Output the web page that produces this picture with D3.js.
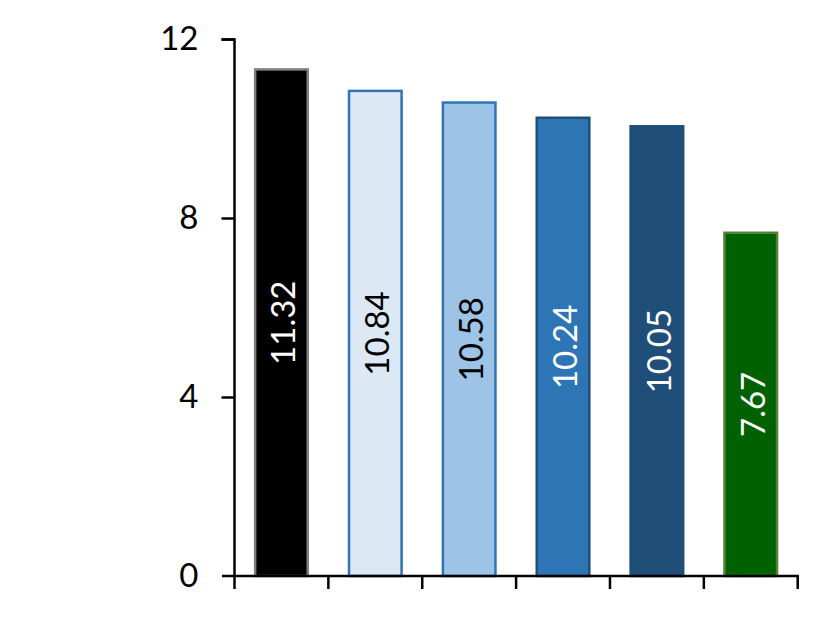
<!DOCTYPE html>
<html><head><meta charset="utf-8">
<script src="https://cdn.jsdelivr.net/npm/d3@7"></script>
<style>body{margin:0;background:#fff}svg{display:block}text{font-family:Lato,"Open Sans",sans-serif}</style>
</head><body><svg id="c" width="830" height="630"></svg>
<script>
const categories = ["A","B","C","D","E","F"];
const values = [11.32, 10.84, 10.58, 10.24, 10.05, 7.67];
const labels = ["11.32","10.84","10.58","10.24","10.05","7.67"];
const fills = ["#000000","#dde8f5","#9dc3e6","#2e75b6","#1f4e79","#006100"];
const strokes = ["#7f7f7f","#2e75b6","#2e75b6","#1f4e79","#1f4e79","#548235"];
const textColors = ["#fff","#000","#000","#fff","#fff","#fff"];
const yTicks = [0,4,8,12];

const svg = d3.select("#c");
const x = d3.scaleBand().domain(categories).range([234.5, 797.7]).paddingInner(0.44).paddingOuter(0.22);
const y = d3.scaleLinear().domain([0,12]).range([576, 39]);

svg.selectAll("rect.bar").data(values).join("rect")
  .attr("class","bar")
  .attr("x",(d,i)=>x(categories[i]))
  .attr("width",x.bandwidth())
  .attr("y",d=>y(d))
  .attr("height",d=>y(0)-y(d))
  .attr("fill",(d,i)=>fills[i])
  .attr("stroke",(d,i)=>strokes[i])
  .attr("stroke-width",2.5);

svg.selectAll("text.lab").data(values).join("text")
  .attr("class","lab")
  .attr("transform",(d,i)=>`translate(${x(categories[i])+x.bandwidth()/2+1},${(y(d)+y(0))/2}) rotate(-90)`)
  .attr("text-anchor","middle")
  .attr("dominant-baseline","central")
  .attr("font-size",33)
  .attr("fill",(d,i)=>textColors[i])
  .text((d,i)=>labels[i]);

const yAxis = d3.axisLeft(y).tickValues(yTicks).tickSize(13).tickPadding(23).tickFormat(d3.format("d"));
const gy = svg.append("g").attr("transform","translate(234.5,0)").call(yAxis);
gy.select(".domain").attr("stroke","#000").attr("stroke-width",2.5).attr("d","M-13,39.5H0V576");
gy.selectAll(".tick line").attr("stroke","#000").attr("stroke-width",2.5);
gy.selectAll(".tick text").attr("font-size",33).attr("fill","#000").attr("font-family","Lato");

const xEdge = d3.scaleLinear().domain([0,6]).range([234.5,797.7]);
const gx = svg.append("g");
gx.append("line").attr("x1",222).attr("x2",798.9).attr("y1",576).attr("y2",576).attr("stroke","#000").attr("stroke-width",2.5);
gx.selectAll("line.t").data(d3.range(7)).join("line").attr("class","t")
  .attr("x1",d=>xEdge(d)).attr("x2",d=>xEdge(d)).attr("y1",576).attr("y2",589)
  .attr("stroke","#000").attr("stroke-width",2.5);
gy.selectAll(".tick").filter(d=>d===0).select("line").remove();
</script></body></html>
